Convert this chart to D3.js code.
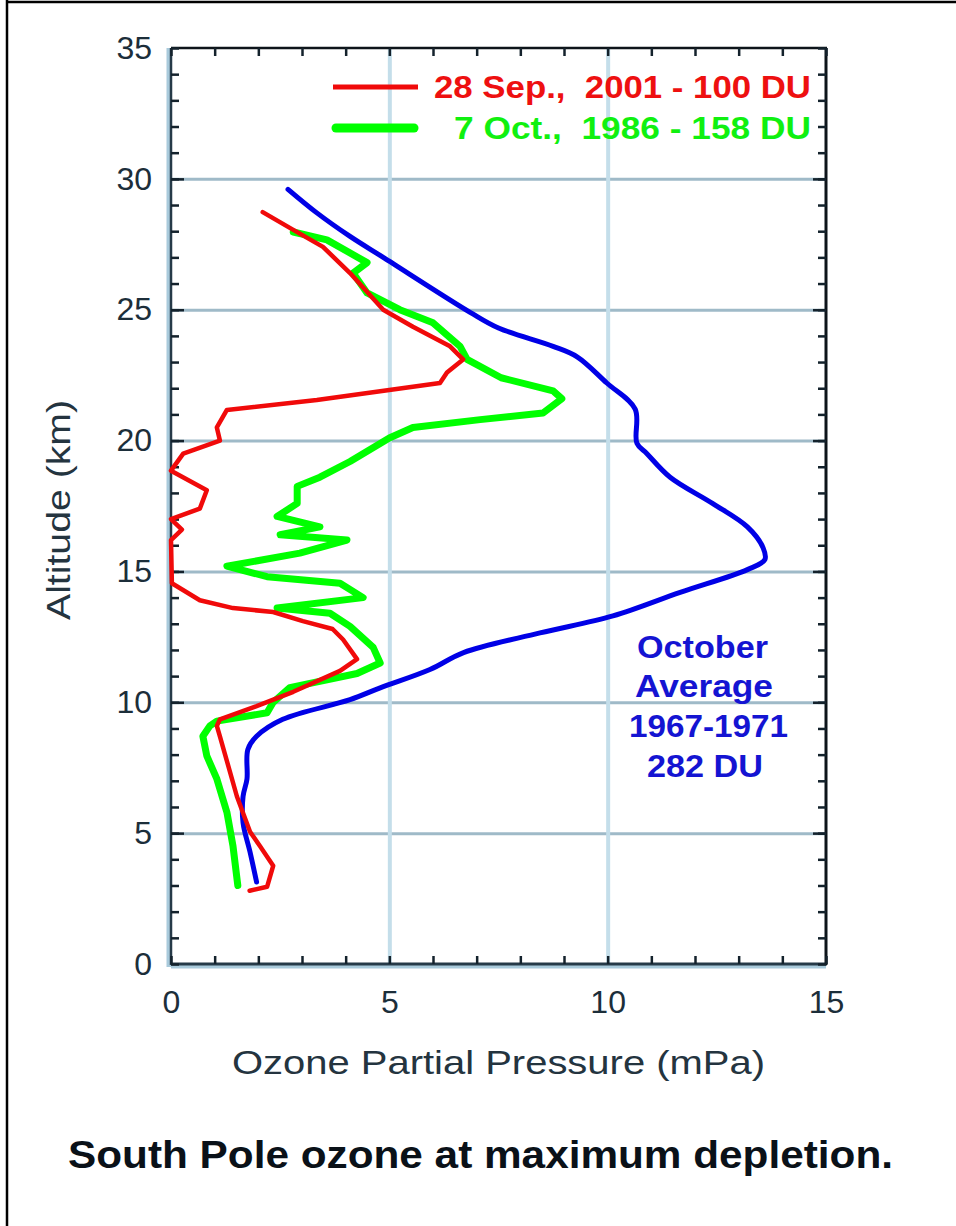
<!DOCTYPE html>
<html>
<head>
<meta charset="utf-8">
<script src="https://cdn.jsdelivr.net/npm/d3@7"></script>
<style>
  body { margin: 0; background: #fff; }
  svg { display: block; }
  text { font-family: "Liberation Sans", Arial, Helvetica, sans-serif; }
</style>
</head>
<body>
<svg id="chart" width="956" height="1226"></svg>
<script>
// Ozone soundings over the South Pole: [altitude km, partial pressure mPa]
const sep2001 = [
  [28.73,2.10],[28.05,2.80],[27.40,3.48],[26.40,4.10],[25.00,4.86],[24.35,5.54],
  [23.60,6.39],[23.10,6.69],[22.60,6.32],[22.20,6.16],[21.55,3.34],[21.17,1.28],
  [20.50,1.05],[20.00,1.12],[19.50,0.28],[18.85,0.00],[18.10,0.82],[17.40,0.66],
  [17.00,0.00],[16.60,0.25],[16.20,0.00],[14.55,0.02],[13.90,0.66],[13.60,1.42],
  [13.45,2.34],[13.10,3.02],[12.80,3.70],[12.40,3.94],[11.65,4.26],[11.20,3.87],
  [10.40,2.80],[9.85,1.96],[9.35,1.12],[9.10,1.05],[8.70,1.12],[6.40,1.51],
  [5.05,1.81],[4.50,2.04],[3.75,2.34],[2.95,2.20],[2.80,1.80]
];
const oct1986 = [
  [27.97,2.80],[27.67,3.57],[26.80,4.49],[26.40,4.17],[25.64,4.49],[25.00,5.24],
  [24.50,6.00],[23.60,6.62],[23.10,6.78],[22.40,7.56],[21.90,8.75],[21.60,8.95],
  [21.05,8.52],[20.80,7.08],[20.50,5.54],[20.10,5.00],[19.20,4.10],[18.60,3.41],
  [18.25,2.89],[17.60,2.89],[17.10,2.43],[16.70,3.41],[16.40,2.50],[16.20,4.03],
  [15.70,2.95],[15.20,1.28],[14.80,2.20],[14.55,3.87],[14.00,4.40],[13.60,2.43],
  [13.40,3.64],[12.90,4.10],[12.10,4.63],[11.50,4.79],[11.10,4.26],[10.56,2.72],
  [10.00,2.34],[9.60,2.20],[9.28,1.05],[9.10,0.89],[8.70,0.73],[7.95,0.82],
  [7.07,1.05],[5.80,1.28],[4.50,1.42],[3.00,1.53]
];
const octAverage = [
  [29.60,2.68],[28.70,3.34],[27.80,4.10],[27.00,4.86],[24.90,6.85],[24.30,7.50],
  [23.60,8.75],[23.20,9.30],[22.20,9.98],[21.20,10.63],[19.90,10.67],[19.50,10.90],
  [18.60,11.43],[17.60,12.40],[16.70,13.20],[15.90,13.56],[15.45,13.60],[15.07,13.20],
  [14.20,11.66],[13.30,10.12],[12.65,8.45],[11.90,6.70],[11.25,5.93],[10.55,4.79],
  [10.10,4.10],[9.35,2.56],[8.70,1.96],[8.20,1.76],[7.07,1.74],[6.40,1.65],
  [5.40,1.65],[4.28,1.81],[3.13,1.96]
];

const xLabelTicks = [0, 5, 10, 15];
const yLabelTicks = [0, 5, 10, 15, 20, 25, 30, 35];
const xMinorTicks = d3.range(0, 16);
const yMinorTicks = d3.range(0, 36);
const xGridTicks = [5, 10];
const yGridTicks = [5, 10, 15, 20, 25, 30];

const legendLabels = ["28 Sep.,  2001 - 100 DU", "7 Oct.,  1986 - 158 DU"];
const averageLabel = ["October", "Average", "1967-1971", "282 DU"];
const xTitle = "Ozone Partial Pressure (mPa)";
const yTitle = "Altitude (km)";
const caption = "South Pole ozone at maximum depletion.";

const svg = d3.select("#chart");
const x = d3.scaleLinear().domain([0, 15]).range([171, 826]);
const y = d3.scaleLinear().domain([0, 35]).range([964, 48]);
const plotH = y(0) - y(35), plotW = x(15) - x(0);

// outer frame edges
svg.append("line").attr("x1", 7).attr("x2", 7).attr("y1", 0).attr("y2", 1226)
  .attr("stroke", "#000").attr("stroke-width", 2.5);
svg.append("line").attr("x1", 6).attr("x2", 956).attr("y1", 2).attr("y2", 2)
  .attr("stroke", "#000").attr("stroke-width", 2.5);

// grid lines
svg.append("g").attr("transform", `translate(${x(0)},0)`)
  .call(d3.axisLeft(y).tickValues(yGridTicks).tickSize(-plotW).tickFormat(""))
  .call(g => g.select(".domain").remove())
  .call(g => g.selectAll("line").attr("stroke", "#9fbac8").attr("stroke-width", 3));
svg.append("g").attr("transform", `translate(0,${y(0)})`)
  .call(d3.axisBottom(x).tickValues(xGridTicks).tickSize(-plotH).tickFormat(""))
  .call(g => g.select(".domain").remove())
  .call(g => g.selectAll("line").attr("stroke", "#c4deea").attr("stroke-width", 4));

// axis frame: left and bottom with a pale halo, top and right dark
const frame = svg.append("g");
frame.append("line").attr("x1", x(0) - 2).attr("x2", x(0) - 2).attr("y1", y(35)).attr("y2", y(0) + 3)
  .attr("stroke", "#a9cadb").attr("stroke-width", 5);
frame.append("line").attr("x1", x(0)).attr("x2", x(15)).attr("y1", y(0) + 2).attr("y2", y(0) + 2)
  .attr("stroke", "#a9cadb").attr("stroke-width", 5);
frame.append("line").attr("x1", x(0)).attr("x2", x(0)).attr("y1", y(35)).attr("y2", y(0) + 1)
  .attr("stroke", "#263a48").attr("stroke-width", 2.5);
frame.append("line").attr("x1", x(0)).attr("x2", x(15) + 1).attr("y1", y(0)).attr("y2", y(0))
  .attr("stroke", "#263a48").attr("stroke-width", 3);
frame.append("line").attr("x1", x(0)).attr("x2", x(15) + 1).attr("y1", y(35)).attr("y2", y(35))
  .attr("stroke", "#0d141a").attr("stroke-width", 2.5);
frame.append("line").attr("x1", x(15)).attr("x2", x(15)).attr("y1", y(35)).attr("y2", y(0) + 1)
  .attr("stroke", "#0d141a").attr("stroke-width", 3);

// inward tick marks on all four sides
function ticks(axisFn, scale, values, size, pos) {
  svg.append("g").attr("transform", pos)
    .call(axisFn(scale).tickValues(values).tickSize(-size).tickFormat(""))
    .call(g => g.select(".domain").remove())
    .call(g => g.selectAll("line").attr("stroke", "#14222c").attr("stroke-width", 2.5));
}
ticks(d3.axisBottom, x, xMinorTicks, 8, `translate(0,${y(0)})`);
ticks(d3.axisTop, x, xMinorTicks, 8, `translate(0,${y(35)})`);
ticks(d3.axisLeft, y, yMinorTicks, 8, `translate(${x(0)},0)`);
ticks(d3.axisRight, y, yMinorTicks, 8, `translate(${x(15)},0)`);
ticks(d3.axisLeft, y, yGridTicks, 13, `translate(${x(0)},0)`);
ticks(d3.axisRight, y, yGridTicks, 13, `translate(${x(15)},0)`);

// tick labels
svg.append("g").attr("transform", `translate(0,${y(0)})`)
  .call(d3.axisBottom(x).tickValues(xLabelTicks).tickSize(0).tickPadding(26).tickFormat(d3.format("d")))
  .call(g => g.select(".domain").remove())
  .call(g => g.selectAll("text").attr("font-size", 32).attr("fill", "#1c2e3a")
    .attr("font-family", "'Liberation Sans', Arial, sans-serif"));
svg.append("g").attr("transform", `translate(${x(0)},0)`)
  .call(d3.axisLeft(y).tickValues(yLabelTicks).tickSize(0).tickPadding(19).tickFormat(d3.format("d")))
  .call(g => g.select(".domain").remove())
  .call(g => g.selectAll("text").attr("font-size", 32).attr("fill", "#1c2e3a")
    .attr("font-family", "'Liberation Sans', Arial, sans-serif"));

// axis titles
svg.append("text").attr("x", 232).attr("y", 1074)
  .attr("font-size", 34).attr("fill", "#24343f")
  .attr("textLength", 533).attr("lengthAdjust", "spacingAndGlyphs")
  .text(xTitle);
svg.append("text").attr("transform", "translate(70,620) rotate(-90)")
  .attr("font-size", 34).attr("fill", "#24343f")
  .attr("textLength", 220).attr("lengthAdjust", "spacingAndGlyphs")
  .text(yTitle);

// profiles
const line = d3.line().x(d => x(d[1])).y(d => y(d[0]));
svg.append("path").datum(octAverage)
  .attr("d", line.curve(d3.curveCatmullRom.alpha(0.5)))
  .attr("fill", "none").attr("stroke", "#0000e6").attr("stroke-width", 5)
  .attr("stroke-linejoin", "round").attr("stroke-linecap", "round");
const jagged = d3.line().x(d => x(d[1])).y(d => y(d[0])).curve(d3.curveLinear);
svg.append("path").datum(oct1986).attr("d", jagged)
  .attr("fill", "none").attr("stroke", "#00ff00").attr("stroke-width", 7)
  .attr("stroke-linejoin", "round").attr("stroke-linecap", "round");
svg.append("path").datum(sep2001).attr("d", jagged)
  .attr("fill", "none").attr("stroke", "#f00a0a").attr("stroke-width", 4.5)
  .attr("stroke-linejoin", "round").attr("stroke-linecap", "round");

// legend
const legend = svg.append("g");
legend.append("line").attr("x1", 333).attr("x2", 418).attr("y1", 87).attr("y2", 87)
  .attr("stroke", "#f00a0a").attr("stroke-width", 5);
legend.append("line").attr("x1", 336).attr("x2", 414).attr("y1", 128).attr("y2", 128)
  .attr("stroke", "#00ff00").attr("stroke-width", 9).attr("stroke-linecap", "round");
legend.append("text").attr("x", 434).attr("y", 98).attr("font-size", 31).attr("font-weight", "bold")
  .attr("fill", "#ee1010").style("white-space", "pre")
  .attr("textLength", 377).attr("lengthAdjust", "spacingAndGlyphs").text(legendLabels[0]);
legend.append("text").attr("x", 454).attr("y", 139).attr("font-size", 31).attr("font-weight", "bold")
  .attr("fill", "#10f010").style("white-space", "pre")
  .attr("textLength", 357).attr("lengthAdjust", "spacingAndGlyphs").text(legendLabels[1]);

// October average annotation
const annoX = [637, 635, 629, 647], annoW = [131, 138, 159, 116], annoY = [658, 697, 737, 777];
svg.append("g").selectAll("text").data(averageLabel).join("text")
  .attr("x", (d, i) => annoX[i]).attr("y", (d, i) => annoY[i])
  .attr("font-size", 32).attr("font-weight", "bold").attr("fill", "#1414d2")
  .attr("textLength", (d, i) => annoW[i]).attr("lengthAdjust", "spacingAndGlyphs")
  .text(d => d);

// caption
svg.append("text").attr("x", 68).attr("y", 1168)
  .attr("font-size", 39).attr("font-weight", "bold").attr("fill", "#0a1118")
  .attr("textLength", 825).attr("lengthAdjust", "spacingAndGlyphs")
  .text(caption);
</script>
</body>
</html>
